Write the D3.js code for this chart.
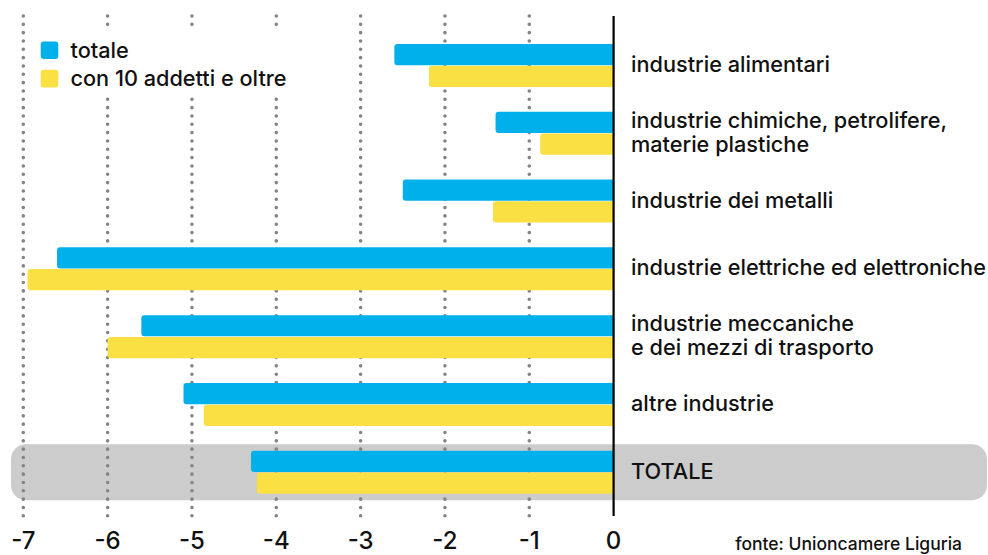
<!DOCTYPE html>
<html lang="it">
<head>
  <meta charset="UTF-8" />
  <title>Industrie in Liguria</title>
  <style>
    body { margin: 0; background: #fff; }
    svg { display: block; font-family: "Inter", "Noto Sans", sans-serif; font-weight: 500; }
  </style>
</head>
<body>
  <div id="chart"></div>

  <script src="https://d3js.org/d3.v7.min.js"></script>
  <script>
    const categories = [
      "industrie alimentari",
      "industrie chimiche, petrolifere,\nmaterie plastiche",
      "industrie dei metalli",
      "industrie elettriche ed elettroniche",
      "industrie meccaniche\ne dei mezzi di trasporto",
      "altre industrie",
      "TOTALE"
    ];
    const totale = [-2.6, -1.4, -2.5, -6.6, -5.6, -5.1, -4.3];
    const con10 = [-2.19, -0.87, -1.43, -6.95, -6.0, -4.86, -4.23];
    const ticks = [-7, -6, -5, -4, -3, -2, -1, 0];
    const seriesNames = ["totale", "con 10 addetti e oltre"];
    const colors = ["#00b0ea", "#fae042"];

    const width = 988, height = 555;
    const svg = d3.select("#chart").append("svg")
      .attr("width", width).attr("height", height);

    const x = d3.scaleLinear().domain([-7, 0]).range([23.3, 613.6]);
    const y = d3.scaleBand().domain(categories).range([31.6, 506.1]);
    const sub = d3.scaleBand().domain(seriesNames).range([-21.5, 21.5]).paddingInner(0.025);
    const mid = c => y(c) + y.bandwidth() / 2;

    // grey band behind TOTALE
    const last = categories[categories.length - 1];
    svg.append("rect")
      .attr("x", 11).attr("width", 976)
      .attr("y", mid(last) - 28).attr("height", 56)
      .attr("rx", 15)
      .attr("fill", "#cccccc");

    // dotted grid
    svg.append("g")
      .selectAll("line")
      .data(ticks.filter(t => t < 0))
      .join("line")
      .attr("x1", d => x(d)).attr("x2", d => x(d))
      .attr("y1", 16).attr("y2", 516)
      .attr("stroke", "#848484")
      .attr("stroke-width", 3.6)
      .attr("stroke-linecap", "round")
      .attr("stroke-dasharray", "0 8.33");

    // bars, rounded only on the left
    function barPath(v, top, h) {
      const x0 = x(v), x1 = x(0), r = 3;
      return `M${x1},${top}H${x0 + r}Q${x0},${top} ${x0},${top + r}V${top + h - r}Q${x0},${top + h} ${x0 + r},${top + h}H${x1}Z`;
    }
    const rows = categories.map((c, i) => ({ c, vals: [totale[i], con10[i]] }));
    const g = svg.append("g");
    rows.forEach(row => {
      row.vals.forEach((v, j) => {
        g.append("path")
          .attr("d", barPath(v, mid(row.c) + sub(seriesNames[j]), sub.bandwidth()))
          .attr("fill", colors[j]);
      });
    });

    // zero line
    svg.append("line")
      .attr("x1", x(0)).attr("x2", x(0))
      .attr("y1", 16).attr("y2", 516)
      .attr("stroke", "#000").attr("stroke-width", 2.2);

    // category labels
    const lab = svg.append("g")
      .selectAll("text")
      .data(categories)
      .join("text")
      .attr("x", 631)
      .attr("y", d => mid(d) + 6.5)
      .attr("font-size", 21.7)
      .attr("fill", "#111");
    lab.each(function (d) {
      const lines = d.split("\n");
      const t = d3.select(this);
      lines.forEach((l, k) => {
        t.append("tspan")
          .attr("x", 631)
          .attr("y", mid(d) + 6.5 + (k - (lines.length - 1) / 2) * 23.5)
          .text(l);
      });
    });

    // x axis tick labels
    svg.append("g")
      .selectAll("text")
      .data(ticks)
      .join("text")
      .attr("x", d => x(d))
      .attr("y", 549)
      .attr("text-anchor", "middle")
      .attr("font-size", 24)
      .attr("fill", "#111")
      .text(d => d === 0 ? "0" : "-" + Math.abs(d));

    // legend
    const leg = svg.append("g");
    leg.append("rect")
      .attr("x", 34).attr("y", 30).attr("width", 266).attr("height", 66)
      .attr("fill", "#fff");
    seriesNames.forEach((s, i) => {
      leg.append("rect")
        .attr("x", 40.7).attr("y", 41.5 + i * 28.3)
        .attr("width", 17.6).attr("height", 17.6)
        .attr("rx", 3)
        .attr("fill", colors[i]);
      leg.append("text")
        .attr("x", 70.5).attr("y", 58 + i * 27.5)
        .attr("font-size", 21.7)
        .attr("fill", "#111")
        .text(s);
    });

    svg.append("text")
      .attr("x", 962).attr("y", 550)
      .attr("text-anchor", "end")
      .attr("font-size", 17.5)
      .attr("fill", "#111")
      .text("fonte: Unioncamere Liguria");
  </script>
</body>
</html>
